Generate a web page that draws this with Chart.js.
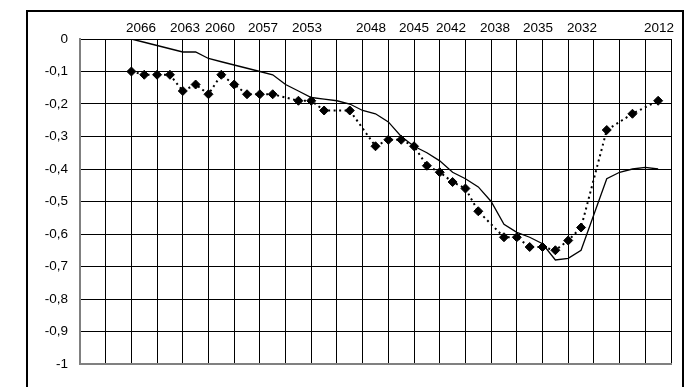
<!DOCTYPE html>
<html>
<head>
<meta charset="utf-8">
<script src="https://cdn.jsdelivr.net/npm/chart.js@4/dist/chart.umd.min.js"></script>
<style>
  body { margin: 0; background: #fff; overflow: hidden; }
  #wrap { position: relative; width: 689px; height: 387px; }
  #frame { position: absolute; left: 26px; top: 10px; width: 658px; height: 400px;
           border: 2px solid #000; box-sizing: border-box; pointer-events: none; }
</style>
</head>
<body>
<div id="wrap">
  <canvas id="chart" width="689" height="387"></canvas>
  <div id="frame"></div>
</div>
<script>
// category index 0..46, one step = half a grid cell
var nCats = 46;

// year labels on the top axis and where they sit (in category units)
var yearLabels = ['2066', '2063', '2060', '2057', '2053', '2048', '2045', '2042', '2038', '2035', '2032', '2012'];
var yearLabelPos = [4.75, 8.17, 10.9, 14.24, 17.67, 22.65, 25.99, 28.87, 32.3, 35.64, 39.07, 45.06];

// solid line, one value per category (null = not drawn)
var lineValues = [null, null, null, null,
  0.00, -0.01, -0.02, -0.03, -0.04, -0.04, -0.06, -0.07, -0.08, -0.09,
  -0.10, -0.11, -0.14, -0.16, -0.18, -0.185, -0.19, -0.20, -0.22, -0.23,
  -0.255, -0.30, -0.33, -0.35, -0.375, -0.41, -0.43, -0.455, -0.50, -0.57,
  -0.595, -0.61, -0.63, -0.68, -0.675, -0.65, -0.54, -0.43, -0.41, -0.40,
  -0.395, -0.40, null];

// diamond markers with dotted line
var markerCats = [4, 5, 6, 7, 8, 9, 10, 11, 12, 13, 14, 15, 17, 18, 19, 21, 23, 24, 25, 26, 27,
  28, 29, 30, 31, 33, 34, 35, 36, 37, 38, 39, 41, 43, 45];
var markerValues = [-0.10, -0.11, -0.11, -0.11, -0.16, -0.14, -0.17, -0.11, -0.14, -0.17, -0.17, -0.17,
  -0.19, -0.19, -0.22, -0.22, -0.33, -0.31, -0.31, -0.33, -0.39,
  -0.41, -0.44, -0.46, -0.53, -0.61, -0.61, -0.64, -0.64, -0.65, -0.62, -0.58, -0.28, -0.23, -0.19];

var yTicks = [0, -0.1, -0.2, -0.3, -0.4, -0.5, -0.6, -0.7, -0.8, -0.9, -1];

var fontFamily = '"Liberation Sans", Arial, sans-serif';

document.addEventListener("DOMContentLoaded", function () {
  var linePoints = [];
  lineValues.forEach(function (v, i) { linePoints.push({x: i, y: v}); });
  var markerPoints = markerCats.map(function (c, i) { return {x: c, y: markerValues[i]}; });

  new Chart(document.getElementById('chart').getContext('2d'), {
    type: 'line',
    data: {
      datasets: [{
        label: 'line',
        data: linePoints,
        borderColor: '#000',
        borderWidth: 1.3,
        pointRadius: 0,
        tension: 0,
        fill: false
      }, {
        label: 'markers',
        data: markerPoints,
        borderColor: '#000',
        borderWidth: 2,
        borderDash: [2, 3.5],
        pointStyle: 'rectRot',
        pointRadius: 4.5,
        pointBackgroundColor: '#000',
        pointBorderColor: '#000',
        pointBorderWidth: 1,
        spanGaps: true,
        tension: 0,
        fill: false
      }]
    },
    options: {
      responsive: false,
      animation: false,
      devicePixelRatio: 1,
      layout: { padding: { left: 0, right: 18, top: 0, bottom: 23 } },
      plugins: { legend: { display: false }, tooltip: { enabled: false } },
      scales: {
        x: {
          type: 'linear',
          position: 'bottom',
          min: 0,
          max: nCats,
          afterBuildTicks: function (axis) {
            var t = [];
            for (var i = 0; i <= nCats; i += 2) t.push({value: i});
            axis.ticks = t;
          },
          afterFit: function (axis) { axis.height = 0; },
          ticks: { display: false },
          grid: {
            drawTicks: false,
            lineWidth: 1,
            color: function (ctx) { return ctx.tick && ctx.tick.value === 0 ? '#808080' : '#000'; }
          },
          border: { display: true, color: '#808080', width: 2 }
        },
        xTop: {
          type: 'linear',
          position: 'top',
          min: 0,
          max: nCats,
          afterBuildTicks: function (axis) {
            axis.ticks = yearLabelPos.map(function (p) { return {value: p}; });
          },
          afterFit: function (axis) { axis.height = 39; },
          grid: { display: false, drawTicks: false },
          border: { display: false },
          ticks: {
            autoSkip: false,
            maxRotation: 0,
            padding: 3,
            color: '#000',
            font: { family: fontFamily, size: 13.5 },
            callback: function (v, i) { return yearLabels[i]; }
          }
        },
        y: {
          min: -1,
          max: 0,
          afterBuildTicks: function (axis) {
            axis.ticks = yTicks.map(function (v) { return {value: v}; });
          },
          afterFit: function (axis) { axis.width = 80; },
          grid: {
            drawTicks: false,
            lineWidth: 1,
            color: function (ctx) { return ctx.tick && ctx.tick.value === -1 ? '#808080' : '#000'; }
          },
          border: { display: true, color: '#808080', width: 2 },
          ticks: {
            padding: 12,
            color: '#000',
            font: { family: fontFamily, size: 13.5 },
            callback: function (v) {
              var r = Math.round(v * 10) / 10;
              return String(r).replace('.', ',');
            }
          }
        }
      }
    }
  });
});
</script>
</body>
</html>
